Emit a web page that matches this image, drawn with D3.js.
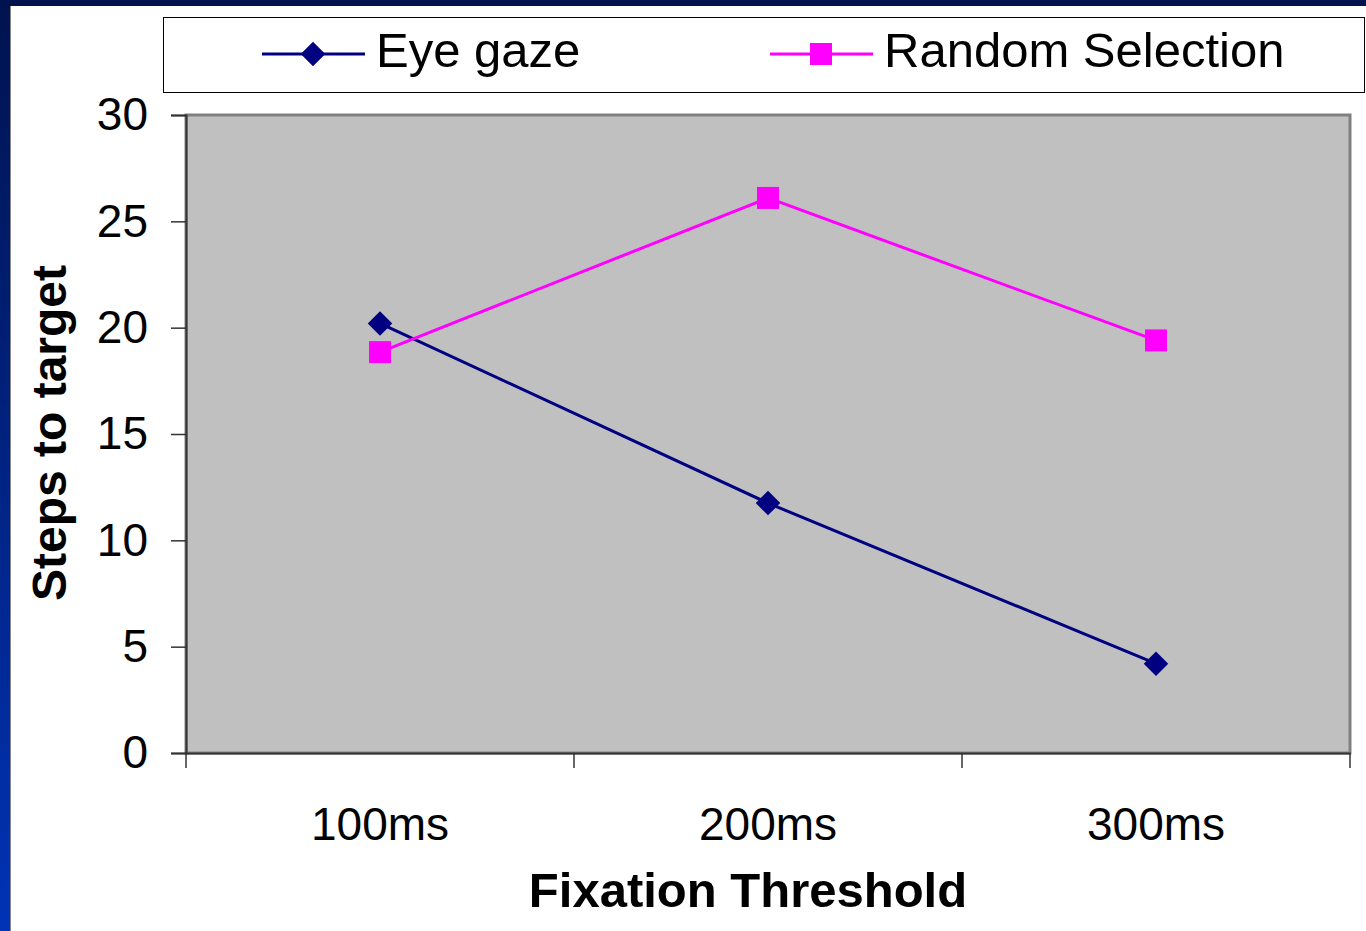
<!DOCTYPE html>
<html>
<head>
<meta charset="utf-8">
<script src="https://cdn.jsdelivr.net/npm/d3@7"></script>
<style>
  body { margin: 0; background: #fff; }
  text { font-family: "Liberation Sans", Arial, sans-serif; }
</style>
</head>
<body>
<div id="chart"></div>
<script>
// Chart data
const categories = ['100ms', '200ms', '300ms'];
const eyeGaze = [20.2, 11.75, 4.2];
const randomSelection = [18.85, 26.1, 19.4];
const yTicks = [0, 5, 10, 15, 20, 25, 30];
const seriesNames = ['Eye gaze', 'Random Selection'];

const W = 1366, H = 931;
const margin = { top: 115, right: 16, bottom: 178, left: 186 };
const width = W - margin.left - margin.right;
const height = H - margin.top - margin.bottom;

const root = d3.select('#chart').append('svg')
    .attr('width', W)
    .attr('height', H);

// Slide frame (dark blue border on top and left)
const defs = root.append('defs');
const grad = defs.append('linearGradient')
    .attr('id', 'frameGrad')
    .attr('x1', 0).attr('y1', 0).attr('x2', 0).attr('y2', 1);
grad.append('stop').attr('offset', '0%').attr('stop-color', '#00134f');
grad.append('stop').attr('offset', '100%').attr('stop-color', '#0033b5');

root.append('rect').attr('x', 0).attr('y', 0).attr('width', W).attr('height', 6).attr('fill', '#00134f');
root.append('rect').attr('x', 0).attr('y', 0).attr('width', 10).attr('height', H).attr('fill', 'url(#frameGrad)');
root.append('line').attr('x1', 10.5).attr('x2', 10.5).attr('y1', 6).attr('y2', H)
    .attr('stroke', '#888').attr('stroke-width', 1);

const svg = root.append('g')
    .attr('transform', `translate(${margin.left},${margin.top})`);

// Scales
const x = d3.scaleBand()
    .domain(categories)
    .range([0, width]);

const y = d3.scaleLinear()
    .domain([0, 30])
    .range([height, 0]);

// Plot area background
svg.append('rect')
    .attr('width', width)
    .attr('height', height)
    .attr('fill', '#c0c0c0')
    .attr('stroke', '#808080')
    .attr('stroke-width', 3);

// Y axis
const yAxis = svg.append('g')
    .attr('class', 'axis y-axis')
    .call(d3.axisLeft(y).tickValues(yTicks).tickSize(15).tickPadding(23));
yAxis.select('.domain').attr('stroke', '#333').attr('stroke-width', 2);
yAxis.selectAll('.tick line').attr('stroke', '#333').attr('stroke-width', 1.5);
yAxis.selectAll('.tick text')
    .style('font-size', '46px')
    .attr('fill', '#000');

// X axis with ticks at band boundaries
const xAxis = svg.append('g')
    .attr('class', 'axis x-axis')
    .attr('transform', `translate(0,${height})`)
    .call(d3.axisBottom(x).tickSize(0).tickPadding(54));
xAxis.select('.domain').attr('stroke', '#333').attr('stroke-width', 2);
xAxis.selectAll('.tick text')
    .style('font-size', '46px')
    .attr('fill', '#000');

const boundaries = categories.map(c => x(c)).concat([width]);
svg.append('g')
    .selectAll('line')
    .data(boundaries)
    .enter().append('line')
    .attr('x1', d => d).attr('x2', d => d)
    .attr('y1', height).attr('y2', height + 15)
    .attr('stroke', '#333').attr('stroke-width', 1.5);

// Axis labels
svg.append('text')
    .attr('x', width / 2 - 20)
    .attr('y', height + 154)
    .attr('text-anchor', 'middle')
    .style('font-size', '49px')
    .style('font-weight', 'bold')
    .text('Fixation Threshold');

svg.append('text')
    .attr('transform', 'rotate(-90)')
    .attr('x', -(height / 2) + 1)
    .attr('y', -120)
    .attr('text-anchor', 'middle')
    .style('font-size', '48px')
    .style('font-weight', 'bold')
    .text('Steps to target');

// Lines
const cx = c => x(c) + x.bandwidth() / 2;
const line = d3.line()
    .x((d, i) => cx(categories[i]))
    .y(d => y(d));

svg.append('path')
    .datum(eyeGaze)
    .attr('fill', 'none')
    .attr('stroke', '#000080')
    .attr('stroke-width', 3)
    .attr('d', line);

svg.append('path')
    .datum(randomSelection)
    .attr('fill', 'none')
    .attr('stroke', '#ff00ff')
    .attr('stroke-width', 3)
    .attr('d', line);

// Markers
const diamond = d3.symbol().type(d3.symbolSquare).size(300);
svg.selectAll('.eye-dot')
    .data(eyeGaze)
    .enter().append('path')
    .attr('class', 'eye-dot')
    .attr('d', diamond)
    .attr('transform', (d, i) => `translate(${cx(categories[i])},${y(d)}) rotate(45)`)
    .attr('fill', '#000080');

svg.selectAll('.rand-dot')
    .data(randomSelection)
    .enter().append('rect')
    .attr('class', 'rand-dot')
    .attr('x', (d, i) => cx(categories[i]) - 11)
    .attr('y', d => y(d) - 11)
    .attr('width', 22)
    .attr('height', 22)
    .attr('fill', '#ff00ff');

// Legend
const legend = root.append('g');
legend.append('rect')
    .attr('x', 163.5).attr('y', 17.5)
    .attr('width', 1201).attr('height', 75)
    .attr('fill', '#fff')
    .attr('stroke', '#000')
    .attr('stroke-width', 1);

const legendItems = [
    { name: seriesNames[0], color: '#000080', x0: 262, shape: 'diamond' },
    { name: seriesNames[1], color: '#ff00ff', x0: 770, shape: 'square' }
];
legendItems.forEach(item => {
    const ly = 54;
    legend.append('line')
        .attr('x1', item.x0).attr('x2', item.x0 + 103)
        .attr('y1', ly).attr('y2', ly)
        .attr('stroke', item.color).attr('stroke-width', 3);
    if (item.shape === 'diamond') {
        legend.append('path')
            .attr('d', diamond)
            .attr('transform', `translate(${item.x0 + 51},${ly}) rotate(45)`)
            .attr('fill', item.color);
    } else {
        legend.append('rect')
            .attr('x', item.x0 + 51 - 11).attr('y', ly - 11)
            .attr('width', 22).attr('height', 22)
            .attr('fill', item.color);
    }
    legend.append('text')
        .attr('x', item.x0 + 114)
        .attr('y', ly + 13)
        .style('font-size', '49px')
        .attr('fill', '#000')
        .text(item.name);
});
</script>
</body>
</html>
